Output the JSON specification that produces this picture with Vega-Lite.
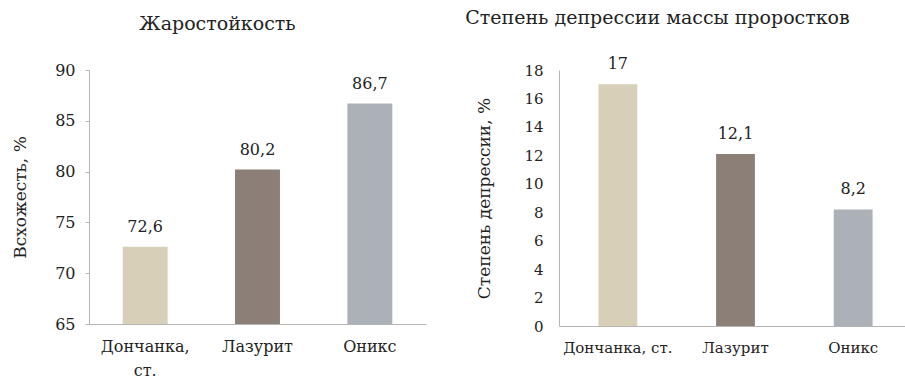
{
  "$schema": "https://vega.github.io/schema/vega-lite/v6.json",
  "background": "white",
  "padding": {"left": 11, "top": 9, "right": 0, "bottom": 0},
  "datasets": {
    "heat": [
      {"sort": "Дончанка, ст.", "value": 72.6},
      {"sort": "Лазурит", "value": 80.2},
      {"sort": "Оникс", "value": 86.7}
    ],
    "depr": [
      {"sort": "Дончанка, ст.", "value": 17},
      {"sort": "Лазурит", "value": 12.1},
      {"sort": "Оникс", "value": 8.2}
    ]
  },
  "config": {
    "locale": {"number": {"decimal": ",", "thousands": " ", "grouping": [3], "currency": ["", ""]}},
    "font": "DejaVu Serif",
    "view": {"stroke": null},
    "text": {"font": "DejaVu Serif"},
    "axis": {
      "domainColor": "#b5b5b5",
      "tickColor": "#b5b5b5",
      "labelColor": "#222222",
      "titleColor": "#222222",
      "labelFont": "DejaVu Serif",
      "titleFont": "DejaVu Serif",
      "titleFontWeight": "normal",
      "grid": false
    },
    "title": {"font": "DejaVu Serif", "fontWeight": "normal", "color": "#222222", "anchor": "middle", "frame": "group"}
  },
  "spacing": 39,
  "hconcat": [
    {
      "width": 337,
      "height": 254,
      "title": {"text": "Жаростойкость", "offset": 28, "fontSize": 19, "dx": -40},
      "data": {"name": "heat"},
      "encoding": {
        "x": {
          "field": "sort", "type": "nominal", "sort": null, "title": null,
          "scale": {"paddingInner": 0.6, "paddingOuter": 0.3},
          "axis": {"labelAngle": 0, "ticks": false, "labelFontSize": 16, "labelPadding": 14, "labelExpr": "split(datum.label, ' ')", "labelLineHeight": 24}
        },
        "y": {
          "field": "value", "type": "quantitative",
          "scale": {"domain": [65, 90], "zero": false, "nice": false},
          "axis": {"values": [65, 70, 75, 80, 85, 90], "title": "Всхожесть, %", "titleFontSize": 17, "labelFontSize": 16, "tickSize": 4, "labelPadding": 10, "titlePadding": 25}
        }
      },
      "layer": [
        {
          "mark": {"type": "bar", "clip": true},
          "encoding": {
            "color": {"field": "sort", "type": "nominal", "legend": null,
              "scale": {"domain": ["Дончанка, ст.", "Лазурит", "Оникс"], "range": ["#d8cfb9", "#8b7f78", "#acb0b7"]}}
          }
        },
        {
          "mark": {"type": "text", "dy": -20, "fontSize": 16, "color": "#222222"},
          "encoding": {"text": {"field": "value", "type": "quantitative", "format": ".1~f"}}
        }
      ]
    },
    {
      "width": 353,
      "height": 256,
      "title": {"text": "Степень депрессии массы проростков", "offset": 28, "fontSize": 19, "dx": -78},
      "data": {"name": "depr"},
      "encoding": {
        "x": {
          "field": "sort", "type": "nominal", "sort": null, "title": null,
          "scale": {"paddingInner": 0.67, "paddingOuter": 0.335},
          "axis": {"labelAngle": 0, "ticks": false, "labelFontSize": 15, "labelPadding": 14}
        },
        "y": {
          "field": "value", "type": "quantitative",
          "scale": {"domain": [0, 18], "nice": false},
          "axis": {"values": [0, 2, 4, 6, 8, 10, 12, 14, 16, 18], "title": "Степень депрессии, %", "titleFontSize": 17, "labelFontSize": 15, "ticks": false, "labelPadding": 16, "titlePadding": 30}
        }
      },
      "layer": [
        {
          "mark": {"type": "bar"},
          "encoding": {
            "color": {"field": "sort", "type": "nominal", "legend": null,
              "scale": {"domain": ["Дончанка, ст.", "Лазурит", "Оникс"], "range": ["#d8cfb9", "#8b7f78", "#acb0b7"]}}
          }
        },
        {
          "mark": {"type": "text", "dy": -20, "fontSize": 16, "color": "#222222"},
          "encoding": {"text": {"field": "value", "type": "quantitative", "format": ".1~f"}}
        }
      ]
    }
  ]
}
